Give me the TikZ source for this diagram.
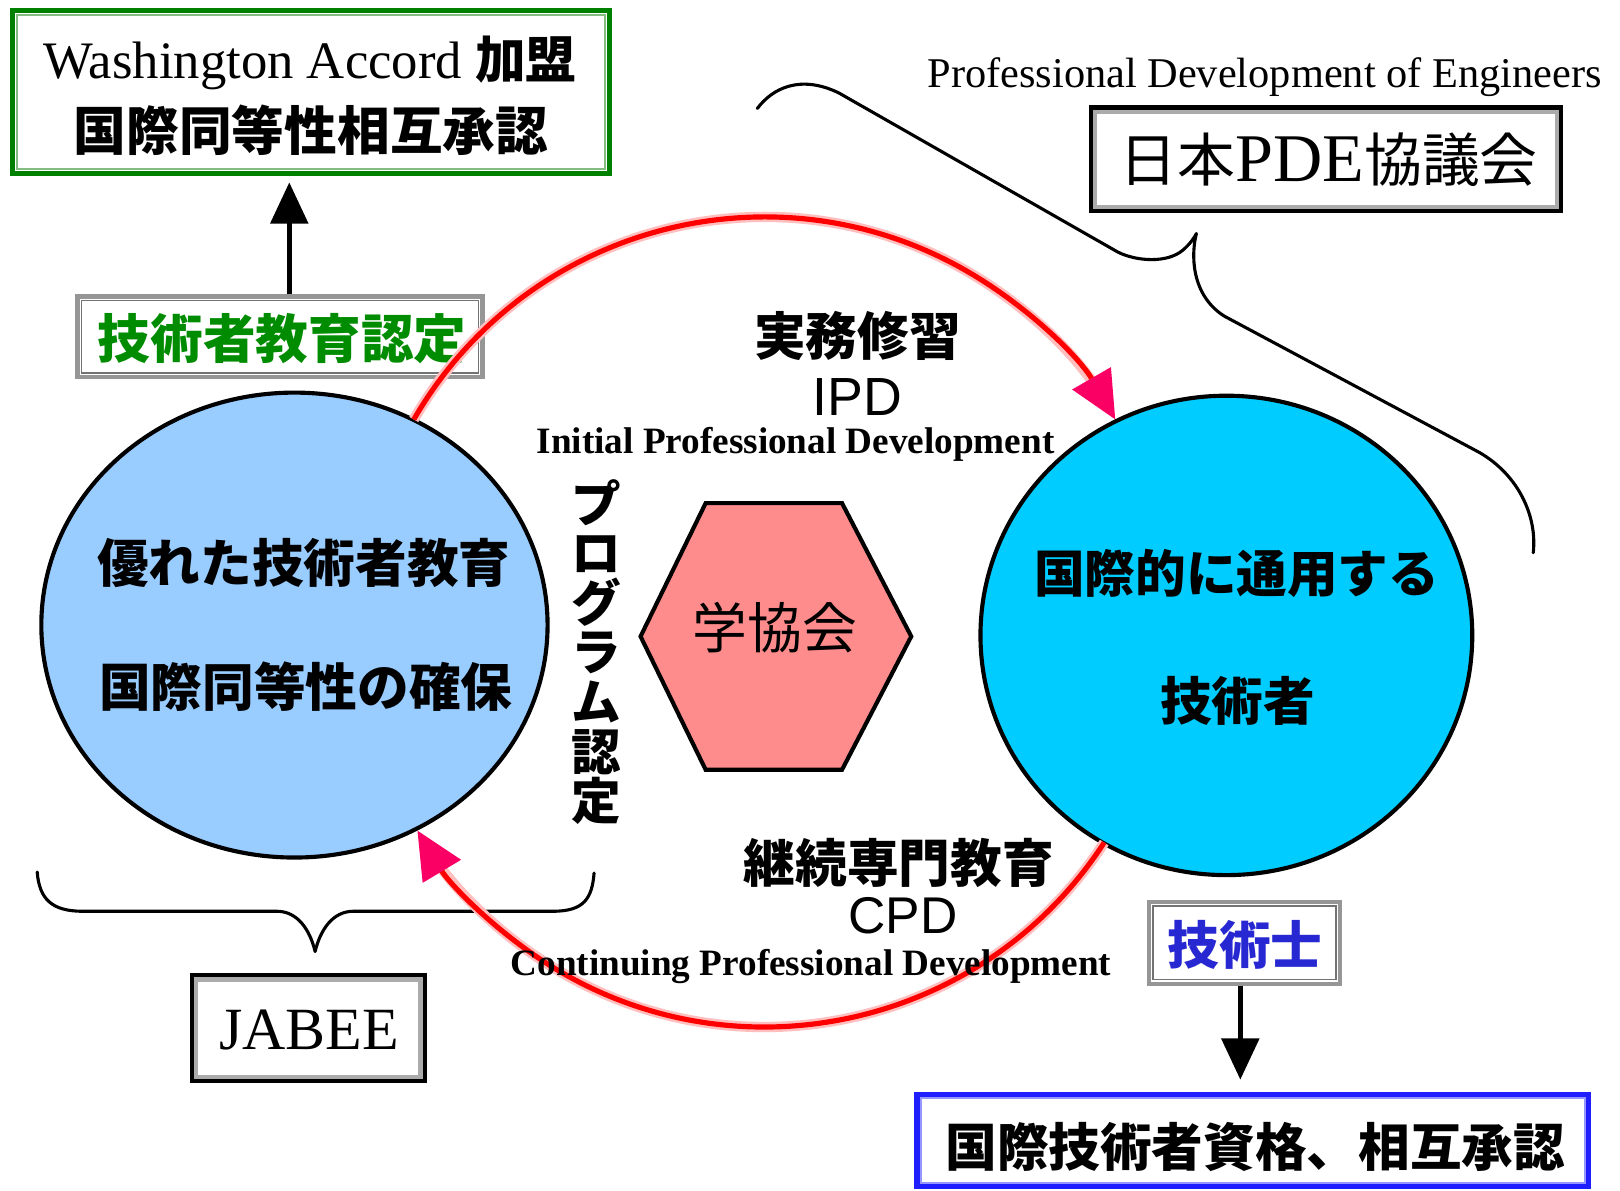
\documentclass[tikz,border=0pt]{standalone}
\usepackage{fontspec}
\setmainfont{Liberation Serif}
\newfontfamily\jp{Noto Sans CJK JP}
\newfontfamily\arial{Liberation Sans}
\usetikzlibrary{arrows.meta,shapes.geometric,calc}
\definecolor{wagreen}{RGB}{0,128,0}
\definecolor{walight}{RGB}{130,190,130}
\definecolor{tkgreen}{RGB}{0,140,0}
\definecolor{lblue}{RGB}{153,204,255}
\definecolor{cyanb}{RGB}{0,204,255}
\definecolor{hexc}{RGB}{255,140,140}
\definecolor{tipc}{RGB}{250,0,100}
\definecolor{redc}{RGB}{255,0,0}
\definecolor{bluec}{RGB}{30,30,255}
\definecolor{bluel}{RGB}{150,150,255}
\definecolor{gstext}{RGB}{40,40,210}
\definecolor{frgray}{RGB}{150,150,150}
\newcommand\myfs[1]{\fontsize{#1}{#1}\selectfont}
\newcommand\innerframe[3]{\draw[#3] ([shift={(#2,#2)}]#1.north west) rectangle ([shift={(-#2,-#2)}]#1.south east);}
\begin{document}
\begin{tikzpicture}[x=1pt,y=-1pt,
  box/.style={draw, rectangle, inner sep=0pt, fill=white},
  txt/.style={inner sep=0pt},
  blackarrow/.style={draw=black, line width=5pt, -{Triangle[length=40pt,width=36pt]}},
  redhalo/.style={draw=redc!25, line width=10pt},
  redline/.style={draw=redc, line width=5pt, -{Triangle[length=46pt,width=42pt,color=tipc,fill=tipc]}},
  brace/.style={draw=black, line width=3pt, line cap=round, line join=round}]
\fill[white] (0,0) rectangle (1568,1152);
\useasboundingbox (0,0) rectangle (1568,1152);
\coordinate (rc) at (740,602);

% braces
\draw[brace] (36,844) .. controls (38,870) and (50,882) .. (80,882) -- (268,882)
  .. controls (288,882) and (300,900) .. (305,921)
  .. controls (310,900) and (322,882) .. (342,882) -- (535,882)
  .. controls (565,882) and (573,870) .. (575,845);
\draw[brace] (733,105) .. controls (748,85) and (775,72) .. (812,90) -- (1082,244)
  .. controls (1100,253) and (1130,255) .. (1145,242)
  .. controls (1152,236) and (1156,230) .. (1158,226)
  .. controls (1153,245) and (1152,285) .. (1185,306) -- (1432,438)
  .. controls (1470,460) and (1488,500) .. (1484,535);

% top-left box
\node[box, draw=wagreen, line width=5pt, minimum width=578pt, minimum height=158pt] (wa) at (301,89) {};
\innerframe{wa}{7}{walight, line width=2pt}
\node[txt] (wat1) at (300,61) {\myfs{51}Washington Accord {\jp\bfseries\myfs{49}加盟}};
\node[txt] (wat2) at (301,126) {\jp\bfseries\myfs{51}国際同等性相互承認};

% JABEE accreditation box
\node[box, draw=frgray, line width=4pt, minimum width=392pt, minimum height=78pt] (tk) at (271,326) {};
\innerframe{tk}{6}{black!55, line width=1.5pt}
\node[txt, text=tkgreen] (tkt) at (273,328) {\jp\bfseries\myfs{51}技術者教育認定};
\draw[blackarrow, shorten >=6pt] ([xshift=9pt]tk.north) -- ([xshift=-21pt]wa.south);

% ellipses
\node[ellipse, draw, line width=4pt, fill=lblue, minimum width=490pt, minimum height=450pt, inner sep=0pt] (le) at (285,605) {};
\node[ellipse, draw, line width=4pt, fill=cyanb, minimum width=476pt, minimum height=464pt, inner sep=0pt] (re) at (1187,615) {};

% hexagon
\draw[line width=4pt, fill=hexc, line join=miter] (683,487) -- (815,487) -- (882,616) -- (815,745) -- (683,745) -- (620,616) -- cycle;
\node[txt] (gk) at (750,607) {\jp\myfs{53}学協会};

% red cycle
\draw[redhalo, shorten >=25pt] ($(rc)+(210:392)$) arc[start angle=210, end angle=330, radius=392];
\draw[redline] ($(rc)+(210:392)$) arc[start angle=210, end angle=330, radius=392];
\draw[redhalo, shorten >=25pt] ($(rc)+(33:392)$) arc[start angle=33, end angle=149, radius=392];
\draw[redline] ($(rc)+(33:392)$) arc[start angle=33, end angle=149, radius=392];

% texts in ellipses
\node[txt] (le1) at (294,545) {\jp\bfseries\myfs{50}優れた技術者教育};
\node[txt] (le2) at (296,665) {\jp\bfseries\myfs{50}国際同等性の確保};
\node[txt] (re1) at (1197,555) {\jp\bfseries\myfs{49}国際的に通用する};
\node[txt] (re2) at (1198,678) {\jp\bfseries\myfs{50}技術者};

% vertical text
\node[txt, align=center, font=\jp\bfseries\myfs{48}] (pg) at (577,631) {プ\\ロ\\グ\\ラ\\ム\\認\\定};

% cycle labels
\node[txt] (sm) at (830,325) {\jp\bfseries\myfs{50}実務修習};
\node[txt] (ipd) at (830,384) {\arial\myfs{52}IPD};
\node[txt] (ipdl) at (770,430) {\bfseries\myfs{36}Initial Professional Development};
\node[txt] (kz) at (870,835) {\jp\bfseries\myfs{50}継続専門教育};
\node[txt] (cpd) at (874,886) {\arial\myfs{50}CPD};
\node[txt] (cpdl) at (785,935) {\bfseries\myfs{36}Continuing Professional Development};

% PDE
\node[txt] (pde) at (1224,75) {\myfs{41}Professional Development of Engineers};
\node[box, draw=black, line width=6pt, minimum width=453pt, minimum height=98pt] (jpb) at (1283.5,154) {};
\innerframe{jpb}{6}{frgray!80, line width=4pt}
\node[txt] (jpt) at (1286,155) {\jp\myfs{56}日本{\rmfamily\myfs{66}PDE}協議会};

% 技術士
\node[box, draw=frgray, line width=4pt, minimum width=185pt, minimum height=79pt] (gs) at (1204.5,912.5) {};
\innerframe{gs}{6}{black!55, line width=1.5pt}
\node[txt, text=gstext] (gst) at (1205,915) {\jp\bfseries\myfs{50}技術士};

\node[box, draw=bluec, line width=6pt, minimum width=649pt, minimum height=88pt] (ib) at (1212.5,1104) {};
\innerframe{ib}{6}{bluel, line width=2pt}
\node[txt] (ibt) at (1215,1110) {\jp\bfseries\myfs{50}国際技術者資格、相互承認};
\draw[blackarrow, shorten >=12pt] ([xshift=-4pt]gs.south) -- ([xshift=-12pt]ib.north);

% JABEE
\node[box, draw=black, line width=6pt, minimum width=223pt, minimum height=100pt] (jb) at (298.5,995) {};
\innerframe{jb}{6}{frgray!80, line width=4pt}
\node[txt] (jbt) at (299,997) {\myfs{58}JABEE};
\end{tikzpicture}
\end{document}
